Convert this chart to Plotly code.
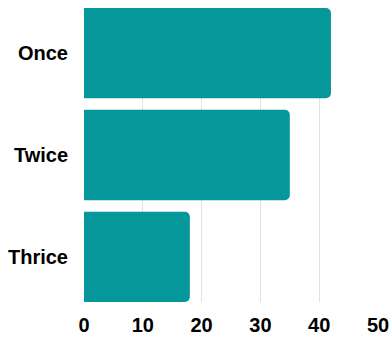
import plotly.graph_objects as go

categories = ["Once", "Twice", "Thrice"]
values = [42, 35, 18]
x_ticks = [0, 10, 20, 30, 40, 50]

fig = go.Figure(go.Bar(
    x=values, y=categories, orientation="h",
    marker=dict(color="#05979A", line=dict(width=0)),
    hoverinfo="skip",
))

fig.update_layout(
    width=392, height=337,
    margin=dict(l=84, r=14, t=8, b=35),
    paper_bgcolor="white", plot_bgcolor="white",
    bargap=0.113,
    barcornerradius=5,
    showlegend=False,
    font=dict(family="Liberation Sans, Arial, sans-serif", size=20, color="black"),
)
fig.update_xaxes(
    range=[0, 50], tickvals=x_ticks,
    showgrid=True, gridcolor="#e2e2e2", gridwidth=1,
    zeroline=False, showline=False, automargin=False,
    tickfont=dict(size=20, weight="bold", color="black"),
    ticks="", ticklabelstandoff=9,
)
fig.update_yaxes(
    categoryorder="array", categoryarray=categories,
    range=[2.4435, -0.4435],
    showgrid=False, zeroline=False, showline=False, automargin=False,
    tickfont=dict(size=20, weight="bold", color="black"),
    ticks="", ticklabelstandoff=15,
)

fig.write_html("out.html", config={"displayModeBar": False},
               post_script="document.body.style.margin='0';document.body.style.overflow='hidden';")
